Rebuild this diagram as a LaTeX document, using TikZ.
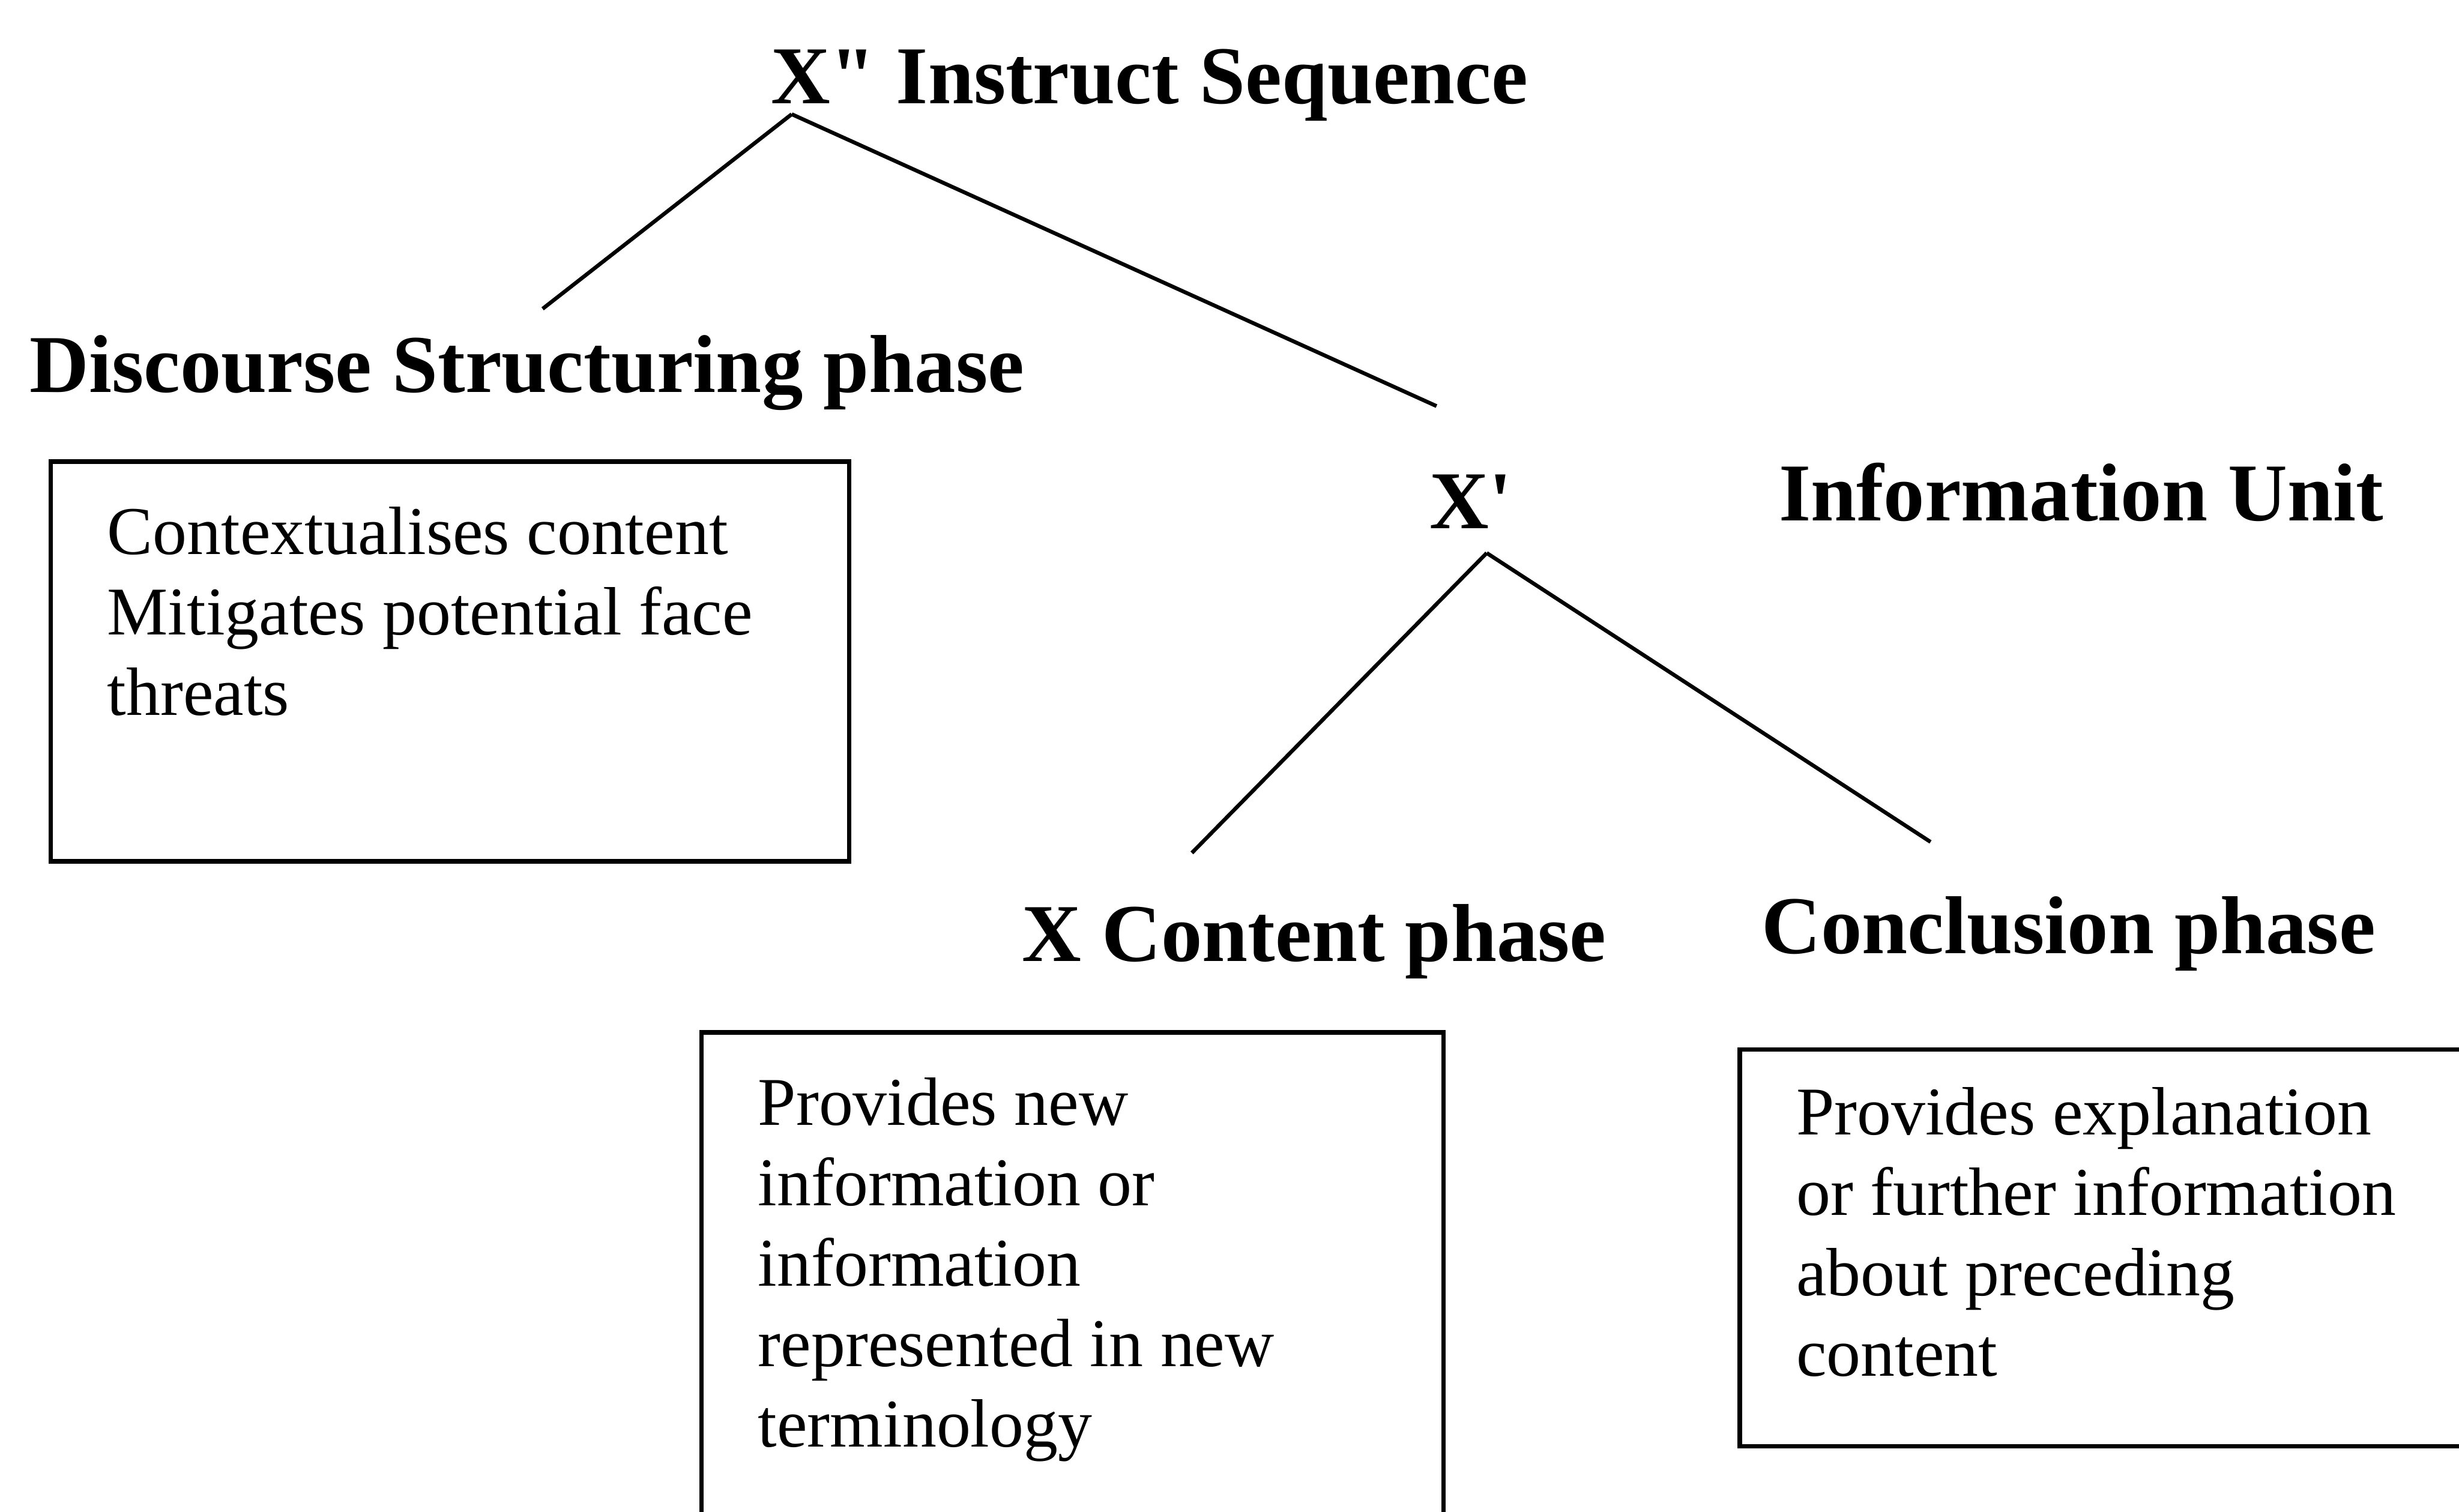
\documentclass[tikz,border=0pt]{standalone}
\usepackage{fontspec}
\setmainfont{Liberation Serif}
\begin{document}
\begin{tikzpicture}[
    heading/.style={font=\fontsize{14.9}{18}\selectfont\bfseries, inner sep=0pt, anchor=base},
    notebox/.style={draw, line width=0.8pt, anchor=north west, inner xsep=0.36cm, inner ysep=0.29cm, font=\fontsize{12.4}{14.6}\selectfont},
    branch/.style={line width=0.7pt}
]
\clip (0,0) rectangle (15.68,-9.643);

\node[heading] (instruct) at (7.33,-0.66) {X\textquotedbl{} Instruct Sequence};
\node[heading] (structuring) at (3.36,-2.50) {Discourse Structuring phase};
\node[heading] (xbar) at (9.38,-3.37) {X\textquotesingle};
\node[heading] (unit) at (13.27,-3.32) {Information Unit};
\node[heading] (content) at (8.38,-6.13) {X Content phase};
\node[heading] (conclusion) at (13.19,-6.08) {Conclusion phase};

% Boxes with the phase descriptions
\node[notebox] (structnote) at (0.31,-2.93) {\parbox[t][1.97cm][t]{4.37cm}{Contextualises content\\Mitigates potential face\\threats}};
\node[notebox] (contentnote) at (4.46,-6.57) {\parbox[t][3.0cm][t]{4.01cm}{Provides new\\information or\\information\\represented in new\\terminology}};
\node[notebox, inner ysep=0.24cm] (conclnote) at (11.08,-6.68) {\parbox[t][2.05cm][t]{4.5cm}{Provides explanation\\or further information\\about preceding\\content}};

% Tree branches
\coordinate (root) at ([xshift=0.14cm,yshift=0.05cm]instruct.south west);
\coordinate (xroot) at ([xshift=0.10cm,yshift=-0.15cm]xbar.south);
\draw[branch] (root) -- ([xshift=0.10cm,yshift=0.16cm]structuring.north);
\draw[branch] (root) -- ([xshift=-0.22cm,yshift=0.43cm]xbar.north);
\draw[branch] (xroot) -- ([xshift=-0.78cm,yshift=0.32cm]content.north);
\draw[branch] (xroot) -- ([xshift=-0.88cm,yshift=0.34cm]conclusion.north);

\end{tikzpicture}
\end{document}
